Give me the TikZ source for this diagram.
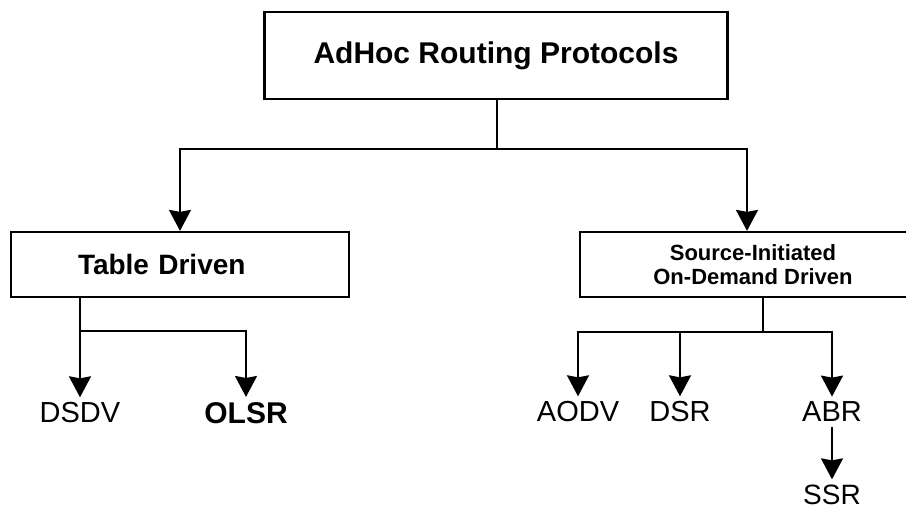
\documentclass[tikz,border=0pt]{standalone}
\usepackage{fontspec}
\setmainfont{Liberation Sans}
\usetikzlibrary{arrows.meta,positioning}

\begin{document}
\begin{tikzpicture}[
  x=0.5pt, y=-0.5pt,
  box/.style={draw, line width=1.1pt, align=center, minimum height=32.5pt},
  leaf/.style={inner sep=2.5pt, font=\fontsize{14.5}{17}\selectfont},
  arr/.style={-{Stealth[length=10.5pt, width=11pt, inset=1pt]}, line width=1pt},
  link/.style={line width=1pt}
]
\useasboundingbox (0,0) rectangle (906,508);

\node[box, minimum width=231.5pt, minimum height=43.5pt, font=\fontsize{15}{18}\selectfont\bfseries] (root) at (496,55.5) {AdHoc Routing Protocols};
\node[box, text width=102pt, inner xsep=33.5pt, align=left, font=\fontsize{14}{17}\selectfont\bfseries] (table) at (180,264.5) {Table Driven};
\node[box, minimum width=173pt, font=\fontsize{11}{12}\selectfont\bfseries] (demand) at (753,264.5) {Source-Initiated\\On-Demand Driven};

\node[leaf] (dsdv) at (80,413) {DSDV};
\node[leaf, font=\fontsize{15}{17}\selectfont\bfseries] (olsr) at (246,413) {OLSR};
\node[leaf] (aodv) at (578,412) {AODV};
\node[leaf] (dsr) at (680,412) {DSR};
\node[leaf] (abr) at (832,412) {ABR};
\node[leaf, font=\fontsize{14}{17}\selectfont, below=26pt of abr] (ssr) {SSR};

\coordinate (rootfork) at (497,149);
\coordinate (tablefork) at (80,331);
\coordinate (demandfork) at (763,332);

\draw[link] (root.south -| rootfork) -- (rootfork);
\draw[arr] (rootfork) -| (table.north);
\draw[arr] (rootfork) -| ([xshift=-3pt]demand.north);

\draw[arr] (table.south -| dsdv) -- (dsdv);
\draw[arr] (tablefork) -| (olsr);

\draw[link] (demand.south -| demandfork) -- (demandfork);
\draw[arr] (demandfork) -| (aodv);
\draw[arr] (demandfork) -| (dsr);
\draw[arr] (demandfork) -| (abr);
\draw[arr] (abr) -- (ssr);

\end{tikzpicture}
\end{document}
